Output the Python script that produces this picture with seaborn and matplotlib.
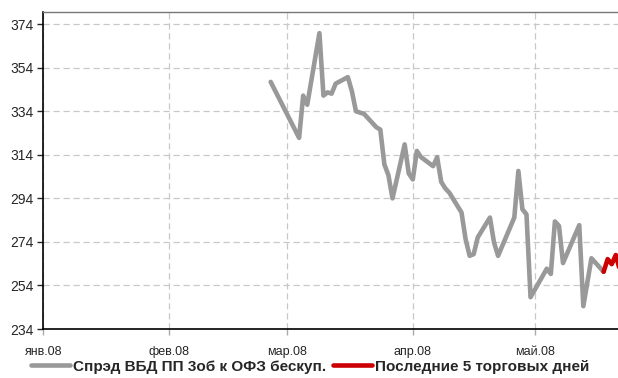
import pandas as pd
import numpy as np
import matplotlib
matplotlib.use("Agg")
import matplotlib.pyplot as plt
import seaborn as sns

# spread series (bp)
spread_dates = [
    "2008-02-26", "2008-03-04", "2008-03-05", "2008-03-06", "2008-03-09",
    "2008-03-10", "2008-03-11", "2008-03-12", "2008-03-13", "2008-03-16",
    "2008-03-17", "2008-03-18", "2008-03-20", "2008-03-23", "2008-03-24",
    "2008-03-25", "2008-03-26", "2008-03-27", "2008-03-30", "2008-03-31",
    "2008-04-01", "2008-04-02", "2008-04-03", "2008-04-06", "2008-04-07",
    "2008-04-08", "2008-04-09", "2008-04-10", "2008-04-13", "2008-04-14",
    "2008-04-15", "2008-04-16", "2008-04-17", "2008-04-20", "2008-04-21",
    "2008-04-22", "2008-04-26", "2008-04-27", "2008-04-28", "2008-04-29",
    "2008-04-30", "2008-05-04", "2008-05-05", "2008-05-06", "2008-05-07",
    "2008-05-08", "2008-05-12", "2008-05-13", "2008-05-15", "2008-05-18",
]
spread_values = [
    347.5, 321.8, 341.2, 337.0, 369.9,
    341.2, 342.7, 342.1, 346.7, 349.7,
    343.2, 334.0, 332.8, 326.7, 325.6,
    309.6, 304.6, 294.0, 318.8, 305.5,
    302.7, 315.8, 313.0, 308.8, 312.9,
    301.6, 298.6, 296.6, 287.5, 275.3,
    267.6, 268.4, 276.1, 285.2, 273.8,
    267.6, 285.2, 306.6, 289.0, 286.7,
    248.6, 261.7, 259.3, 283.4, 281.4,
    264.3, 281.7, 244.5, 266.5, 260.3,
]

last_dates = ["2008-05-18", "2008-05-19", "2008-05-20", "2008-05-21", "2008-05-22"]
last_values = [260.3, 266.1, 263.8, 268.0, 261.0]

month_ticks = ["2008-01-01", "2008-02-01", "2008-03-01", "2008-04-01", "2008-05-01"]
month_labels = ["янв.08", "фев.08", "мар.08", "апр.08", "май.08"]
y_ticks = [234, 254, 274, 294, 314, 334, 354, 374]

label_spread = "Спрэд ВБД ПП 3об к ОФЗ бескуп."
label_last = "Последние 5 торговых дней"

sns.set_style("white")
plt.rcParams['font.family'] = ['Liberation Sans', 'DejaVu Sans']

df_spread = pd.DataFrame({"date": pd.to_datetime(spread_dates), "value": spread_values})
df_last = pd.DataFrame({"date": pd.to_datetime(last_dates), "value": last_values})

fig = plt.figure(figsize=(6.18, 3.78), dpi=100)
ax = fig.add_axes([0.0701, 0.1296, 0.9299, 0.8386])

sns.lineplot(data=df_spread, x="date", y="value", ax=ax, color="#999999",
             linewidth=3.3, label=label_spread)
sns.lineplot(data=df_last, x="date", y="value", ax=ax, color="#cc0000",
             linewidth=3.3, label=label_last)

ax.set_xlim(pd.Timestamp("2008-01-01"), pd.Timestamp("2008-05-21 13:00"))
ax.set_ylim(234, 379.6)
ax.set_xticks(pd.to_datetime(month_ticks))
ax.set_xticklabels(month_labels, fontsize=9)
ax.set_yticks(y_ticks)
ax.tick_params(axis="y", labelsize=10, length=4, width=1, direction="out", left=True, pad=3)
ax.tick_params(axis="x", length=4, width=1, direction="out", bottom=True, pad=8,
               color="#aaaaaa")
ax.set_xlabel("")
ax.set_ylabel("")

ax.grid(True, color="#c8c8c8", linestyle=(0, (5, 3)), linewidth=0.9)
for s in ["left", "bottom"]:
    ax.spines[s].set_color("black")
    ax.spines[s].set_linewidth(1.2)
ax.spines["top"].set_color("#777777")
ax.spines["top"].set_linewidth(1)
ax.spines["right"].set_visible(False)

ax.get_legend().remove()
handles, labels = ax.get_legend_handles_labels()
fig.legend(handles, labels, loc="center", bbox_to_anchor=(0.502, 0.03), ncol=2,
           frameon=False, handlelength=2.5, handletextpad=0.2, columnspacing=0.5,
           borderpad=0.1, prop={"weight": "bold", "size": 11})

fig.savefig("out.png", dpi=100)
